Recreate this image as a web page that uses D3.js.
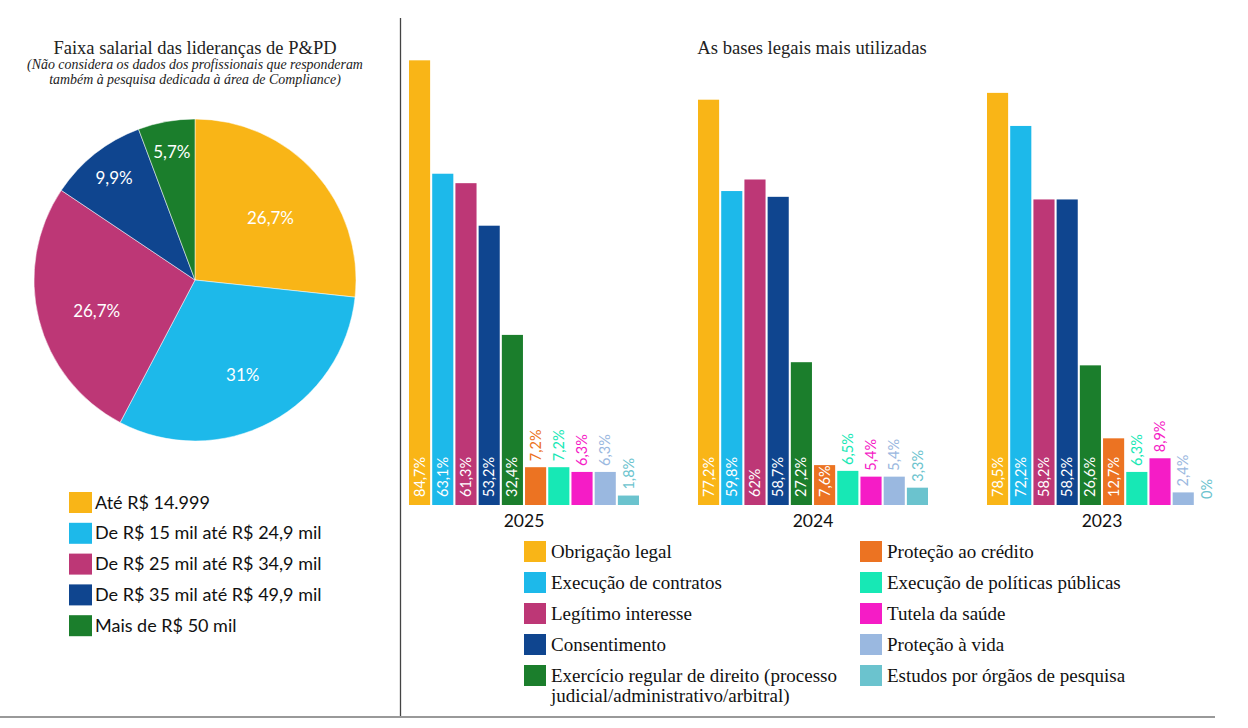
<!DOCTYPE html>
<html>
<head>
<meta charset="utf-8">
<script src="https://cdn.jsdelivr.net/npm/d3@7"></script>
<style>
  body { margin: 0; background: #fff; }
  svg { display: block; }
</style>
</head>
<body>
<svg width="1248" height="728"></svg>
<script>
// pie data
var pieLabels = ["Até R$ 14.999", "De R$ 15 mil até R$ 24,9 mil", "De R$ 25 mil até R$ 34,9 mil",
                 "De R$ 35 mil até R$ 49,9 mil", "Mais de R$ 50 mil"];
var pieValues = [26.7, 31, 26.7, 9.9, 5.7];
var pieColors = ["#F9B517", "#1DB9EA", "#BD3776", "#0F458F", "#1B7E2C"];

// bar data
var years = ["2025", "2024", "2023"];
var bases = ["Obrigação legal", "Execução de contratos", "Legítimo interesse", "Consentimento",
             "Exercício regular de direito (processo judicial/administrativo/arbitral)",
             "Proteção ao crédito", "Execução de políticas públicas", "Tutela da saúde",
             "Proteção à vida", "Estudos por órgãos de pesquisa"];
var values2025 = [84.7, 63.1, 61.3, 53.2, 32.4, 7.2, 7.2, 6.3, 6.3, 1.8];
var values2024 = [77.2, 59.8, 62, 58.7, 27.2, 7.6, 6.5, 5.4, 5.4, 3.3];
var values2023 = [78.5, 72.2, 58.2, 58.2, 26.6, 12.7, 6.3, 8.9, 2.4, 0];
var barColors = ["#F9B517", "#1DB9EA", "#BD3776", "#0F458F", "#1B7E2C",
                 "#EC7322", "#17E8B5", "#F51CC6", "#9AB8E0", "#6BC3CE"];

function fmt(v) { return String(v).replace(".", ",") + "%"; }

function main(){
    var svg = d3.select("svg");
    var serif = "'Liberation Serif', serif",
        sans = "Lato, 'Noto Sans', sans-serif";

    // frame lines
    svg.append("line").attr("x1", 400.5).attr("x2", 400.5).attr("y1", 18).attr("y2", 716)
        .attr("stroke", "#444").attr("stroke-width", 1.3);
    svg.append("line").attr("x1", 0).attr("x2", 1215).attr("y1", 717).attr("y2", 717)
        .attr("stroke", "#999").attr("stroke-width", 2);

    // ---- pie ----
    svg.append("text").attr("x", 195).attr("y", 54).attr("text-anchor", "middle")
        .style("font-family", serif).style("font-size", "18.5px").style("fill", "#222")
        .text("Faixa salarial das lideranças de P&PD");
    var sub = svg.append("text").attr("text-anchor", "middle")
        .style("font-family", serif).style("font-style", "italic").style("font-size", "13.9px").style("fill", "#222");
    sub.append("tspan").attr("x", 195).attr("y", 69).text("(Não considera os dados dos profissionais que responderam");
    sub.append("tspan").attr("x", 195).attr("y", 84).text("também à pesquisa dedicada à área de Compliance)");

    var R = 161;
    var pg = svg.append("g").attr("transform", "translate(195,280)");
    var pie = d3.pie().sort(null).value(function(d){ return d; });
    var arc = d3.arc().innerRadius(0).outerRadius(R);
    var arcs = pie(pieValues);

    pg.selectAll(".slice").data(arcs).enter().append("path")
        .attr("class", "slice")
        .attr("d", arc)
        .attr("fill", function(d, i){ return pieColors[i]; })
        .attr("stroke", "#fff").attr("stroke-width", 0.5);

    pg.selectAll(".plabel").data(arcs).enter().append("text")
        .attr("class", "plabel")
        .attr("transform", function(d){
            var r = d.data < 15 ? R * 0.81 : R * 0.63;
            var a = (d.startAngle + d.endAngle) / 2;
            return "translate(" + (Math.sin(a) * r) + "," + (-Math.cos(a) * r) + ")";
        })
        .attr("text-anchor", "middle").attr("dy", d => d.data < 15 ? "0.35em" : "0.7em")
        .style("font-family", sans).style("font-size", "17px").style("fill", "#fff")
        .text(function(d){ return fmt(d.data); });

    var pl = svg.append("g").attr("transform", "translate(69,492)");
    var prow = pl.selectAll("g").data(pieLabels).enter().append("g")
        .attr("transform", function(d, i){ return "translate(0," + (i * 30.8) + ")"; });
    prow.append("rect").attr("width", 23).attr("height", 21)
        .attr("fill", function(d, i){ return pieColors[i]; });
    prow.append("text").attr("x", 26).attr("y", 16.5)
        .style("font-family", sans).style("font-size", "18px").style("fill", "#111")
        .text(function(d){ return d; });

    // ---- bars ----
    svg.append("text").attr("x", 812).attr("y", 54).attr("text-anchor", "middle")
        .style("font-family", serif).style("font-size", "18.6px").style("fill", "#222")
        .text("As bases legais mais utilizadas");

    var data = [values2025, values2024, values2023];
    var base = 505;
    var x0 = d3.scaleBand().domain(years).range([409, 409 + 3 * 289]);
    var x1 = d3.scaleBand().domain(d3.range(bases.length)).range([0, 230]).paddingInner(0.09);
    var y = d3.scaleLinear().domain([0, 100]).range([base, base - 525]);

    var groups = svg.selectAll(".grp").data(years).enter().append("g")
        .attr("class", "grp")
        .attr("transform", function(d){ return "translate(" + x0(d) + ",0)"; });

    groups.each(function(yr, gi){
        var g = d3.select(this);
        var vals = data[gi].map(function(v, i){ return {v: v, i: i}; });

        g.selectAll(".bar").data(vals).enter().append("rect")
            .attr("class", "bar")
            .attr("x", function(d){ return x1(d.i); })
            .attr("y", function(d){ return y(d.v); })
            .attr("width", x1.bandwidth())
            .attr("height", function(d){ return base - y(d.v); })
            .attr("fill", function(d){ return barColors[d.i]; });

        g.selectAll(".blabel").data(vals).enter().append("text")
            .attr("class", "blabel")
            .attr("transform", function(d){
                var inside = d.i < 6 && d.v >= 7.5;
                var ty = inside ? base - 8 : y(d.v) - 6;
                return "translate(" + (x1(d.i) + x1.bandwidth() / 2) + "," + ty + ") rotate(-90)";
            })
            .attr("dy", "0.35em")
            .style("font-family", sans).style("font-size", "14.5px")
            .style("fill", function(d){ return (d.i < 6 && d.v >= 7.5) ? "#fff" : barColors[d.i]; })
            .text(function(d){ return fmt(d.v); });

        g.append("text").attr("x", 115).attr("y", 527).attr("text-anchor", "middle")
            .style("font-family", sans).style("font-size", "17.5px").style("fill", "#111")
            .text(yr);
    });

    // legend for bars
    var bl = svg.append("g").attr("transform", "translate(524,541)");
    var brow = bl.selectAll("g").data(bases).enter().append("g")
        .attr("transform", function(d, i){
            return "translate(" + (i < 5 ? 0 : 336) + "," + ((i % 5) * 31) + ")";
        });
    brow.append("rect").attr("width", 22).attr("height", 21)
        .attr("fill", function(d, i){ return barColors[i]; });
    brow.append("text").attr("x", 27)
        .style("font-family", serif).style("font-size", "19px").style("fill", "#111")
        .each(function(d){
            var t = d3.select(this);
            var lines = d.indexOf("(processo") > 0 ? [d.slice(0, d.indexOf(" judicial")), d.slice(d.indexOf("judicial"))] : [d];
            lines.forEach(function(l, k){
                t.append("tspan").attr("x", 27).attr("y", 16.5 + k * 20.5).text(l);
            });
        });
}
main();
</script>
</body>
</html>
